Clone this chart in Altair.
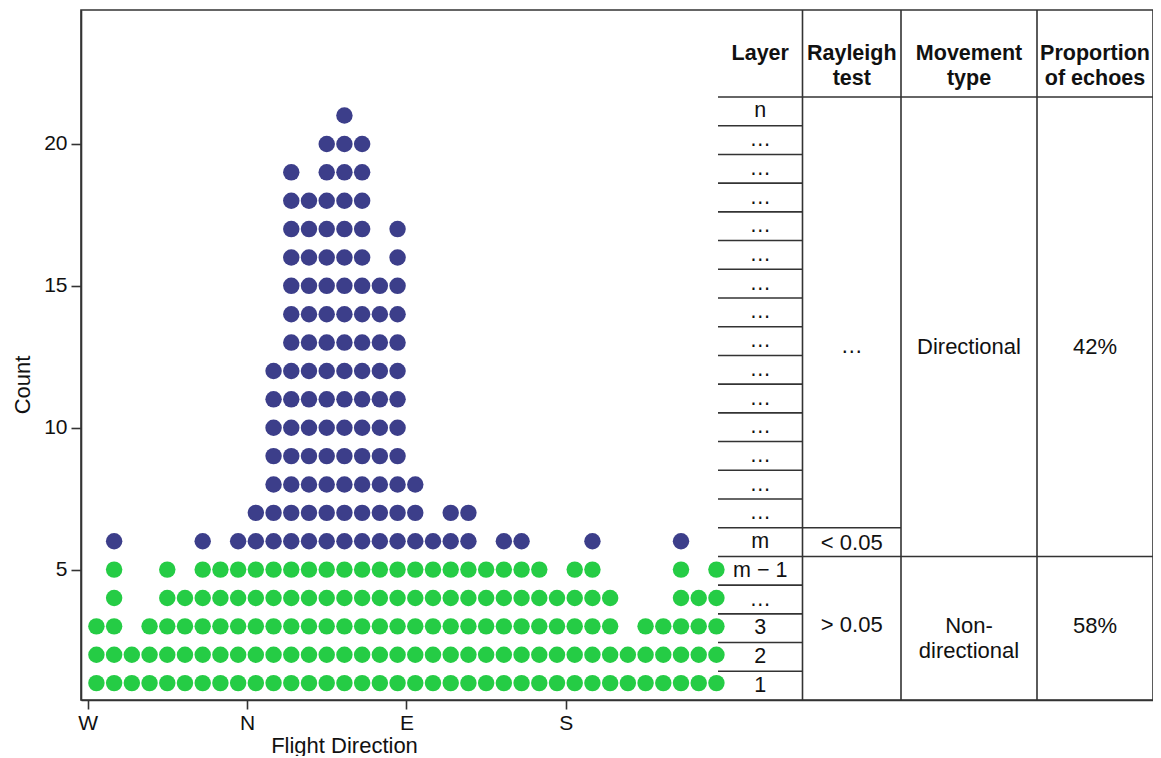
import altair as alt
import pandas as pd

# ---------------- data ----------------
# flight-direction bins (degrees clockwise from West) and dot counts per bin
bin_centers = [5, 15, 25, 35, 45, 55, 65, 75, 85, 95, 105, 115,
               125, 135, 145, 155, 165, 175, 185, 195, 205, 215, 225, 235,
               245, 255, 265, 275, 285, 295, 305, 315, 325, 335, 345, 355]
counts = [3, 6, 2, 3, 5, 4, 6, 5, 6, 7, 12, 19,
          18, 20, 21, 20, 15, 17, 8, 6, 7, 7, 5, 6,
          6, 5, 4, 5, 6, 4, 2, 3, 3, 6, 4, 5]
direction_angles = [0, 90, 180, 270]
direction_labels = ["W", "N", "E", "S"]
first_directional_layer = 6

groups = ["Non-directional", "Directional"]
group_colors = ["#25CC45", "#3C3E8A"]

layer_labels = ["1", "2", "3", "…", "m − 1", "m"] + ["…"] * 14 + ["n"]
header_labels = ["Layer", "Rayleigh\ntest", "Movement\ntype", "Proportion\nof echoes"]
rayleigh_labels = ["…", "< 0.05", "> 0.05"]
movement_labels = ["Directional", "Non-\ndirectional"]
proportions = ["42%", "58%"]

# ---------------- layout constants ----------------
PLOT_W, PLOT_H = 1072, 690
PX_PER_DEG = 1.7715
X_DOMAIN = [-3.7, -3.7 + PLOT_W / PX_PER_DEG]
Y_DOMAIN = [0.405, 24.72]
TABLE_W = 435
TX_DOMAIN = [-(PLOT_W - TABLE_W), TABLE_W]   # table x units (px-like), table starts at 0
TY_DOMAIN = [0, 24.03]                         # table y in row units
col_edges = [0, 84.5, 183, 319, TABLE_W]
col_centers = [(col_edges[i] + col_edges[i + 1]) / 2 for i in range(4)]
n_rows = len(layer_labels)
split_row = first_directional_layer - 1
FONT = "Liberation Sans"
LINE = "#333333"
TEXT = "#111111"

# ---------------- dot table ----------------
rows = []
for ang, c in zip(bin_centers, counts):
    for k in range(1, c + 1):
        rows.append({"angle": ang, "layer": k,
                     "group": groups[1] if k >= first_directional_layer else groups[0]})
dots_df = pd.DataFrame(rows)

label_map = ",".join(f"'{a}':'{l}'" for a, l in zip(direction_angles, direction_labels))

dots = alt.Chart(dots_df).mark_circle(size=270, opacity=1).encode(
    x=alt.X("angle:Q", scale=alt.Scale(domain=X_DOMAIN, nice=False, zero=False),
            axis=alt.Axis(values=direction_angles, labelExpr="{" + label_map + "}[datum.value]",
                          title="Flight Direction", grid=False, tickSize=9,
                          labelPadding=20, labelBaseline="alphabetic",
                          titleX=263, titleY=52, titleBaseline="alphabetic",
                          titleAlign="center")),
    y=alt.Y("layer:Q", scale=alt.Scale(domain=Y_DOMAIN, nice=False, zero=False),
            axis=alt.Axis(values=[5, 10, 15, 20], title="Count", grid=False, tickSize=10,
                          labelPadding=4, titleX=-59, titleY=374.5,
                          titleBaseline="middle", titleAngle=270, titleAlign="center")),
    color=alt.Color("group:N", scale=alt.Scale(domain=groups, range=group_colors), legend=None),
)

# ---------------- table lines ----------------
lines = []
for r in range(1, n_rows):
    if r != split_row:
        lines.append({"x": col_edges[0], "x2": col_edges[1], "y": r, "y2": r})
lines.append({"x": col_edges[1], "x2": col_edges[2], "y": split_row + 1, "y2": split_row + 1})
lines.append({"x": col_edges[0], "x2": col_edges[4], "y": split_row, "y2": split_row})
lines.append({"x": col_edges[0], "x2": col_edges[4], "y": n_rows, "y2": n_rows})
for e in col_edges[1:4]:
    lines.append({"x": e, "x2": e, "y": TY_DOMAIN[0], "y2": TY_DOMAIN[1]})
lines_df = pd.DataFrame(lines)

tx = alt.X("x:Q", scale=alt.Scale(domain=TX_DOMAIN, nice=False, zero=False), axis=None)
ty = alt.Y("y:Q", scale=alt.Scale(domain=TY_DOMAIN, nice=False, zero=False), axis=None)

rules = alt.Chart(lines_df).mark_rule(color=LINE, strokeWidth=1.6).encode(
    x=tx, x2="x2:Q", y=ty, y2="y2:Q")

# ---------------- table text ----------------
header_df = pd.DataFrame({"x": col_centers, "y": [22.29] * 4, "text": header_labels})
header = alt.Chart(header_df).mark_text(
    font=FONT, fontSize=21.5, fontWeight="bold", baseline="alphabetic",
    lineBreak="\n", lineHeight=25, color=TEXT).encode(x=tx, y=ty, text="text:N")

layer_df = pd.DataFrame({"x": [col_centers[0]] * n_rows,
                         "y": [i + 0.5 for i in range(n_rows)],
                         "text": layer_labels})
layer_text = alt.Chart(layer_df).mark_text(
    font=FONT, fontSize=21.5, baseline="middle", color=TEXT).encode(
    x=tx, y=ty, text="text:N")

cells_df = pd.DataFrame({
    "x": [col_centers[1]] * 3 + [col_centers[2]] * 2 + [col_centers[3]] * 2,
    "y": [12.07, 5.22, 2.38, 12.05, 2.35, 12.05, 2.35],
    "text": rayleigh_labels + movement_labels + proportions,
})
cells = alt.Chart(cells_df).mark_text(
    font=FONT, fontSize=22, baseline="alphabetic", lineBreak="\n", lineHeight=25.5,
    color=TEXT).encode(x=tx, y=ty, text="text:N")

table = alt.layer(rules, header, layer_text, cells)

chart = alt.layer(dots, table).resolve_scale(x="independent", y="independent").properties(
    width=PLOT_W, height=PLOT_H,
    autosize=alt.AutoSizeParams(type="none"),
    padding={"left": 73, "top": 2, "right": 0, "bottom": 56},
).configure_view(stroke=LINE, strokeWidth=1.6).configure_axis(
    labelFont=FONT, titleFont=FONT, labelFontSize=21, titleFontSize=22,
    titleFontWeight="normal", labelColor=TEXT, titleColor=TEXT,
    domainColor=LINE, domainWidth=1.6, tickColor=LINE, tickWidth=1.6,
)

chart.save("out.html", embed_options={"renderer": "svg", "actions": False})
